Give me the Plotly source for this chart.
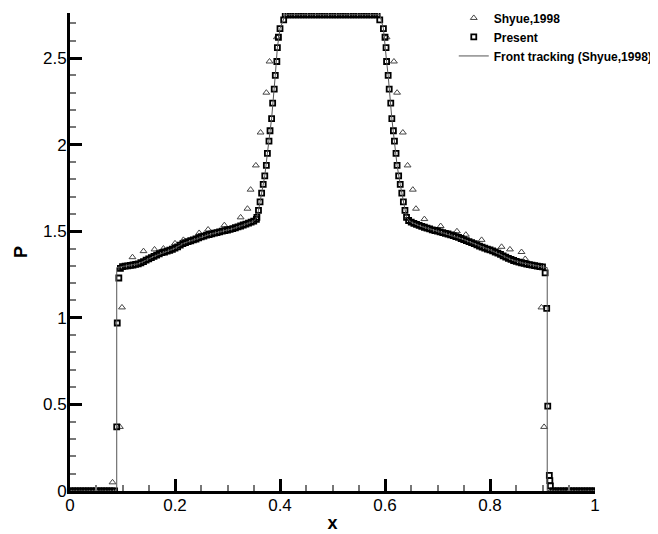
import plotly.graph_objects as go

# Front tracking (Shyue, 1998) reference curve
front_x = [0.0, 0.089, 0.089, 0.10, 0.12, 0.13, 0.15, 0.16, 0.19, 0.20, 0.216, 0.235,
           0.248, 0.27, 0.29, 0.311, 0.33, 0.343, 0.35, 0.356, 0.359, 0.365, 0.371,
           0.376, 0.384, 0.391, 0.395, 0.400, 0.407, 0.41, 0.59, 0.597, 0.603, 0.606,
           0.613, 0.618, 0.623, 0.629, 0.635, 0.641, 0.648, 0.667, 0.70, 0.75, 0.80,
           0.82, 0.84, 0.86, 0.88, 0.90, 0.909, 0.909, 1.0]
front_p = [0.0, 0.0, 1.29, 1.295, 1.305, 1.312, 1.34, 1.355, 1.39, 1.402, 1.43, 1.45,
           1.465, 1.485, 1.50, 1.515, 1.536, 1.55, 1.558, 1.58, 1.62, 1.72, 1.82,
           1.95, 2.15, 2.40, 2.56, 2.67, 2.72, 2.75, 2.75, 2.67, 2.48, 2.40,
           2.15, 2.02, 1.88, 1.77, 1.67, 1.58, 1.555, 1.53, 1.50, 1.452, 1.392,
           1.366, 1.337, 1.318, 1.304, 1.294, 1.29, 0.0, 0.0]

# Present scheme (squares)
present_x = [
    0.000, 0.005, 0.010, 0.015, 0.020, 0.025, 0.030, 0.035, 0.040, 0.045, 0.050, 0.055,
    0.060, 0.065, 0.070, 0.075, 0.080, 0.085, 0.089, 0.090, 0.093, 0.096,
    0.100, 0.105, 0.110, 0.115, 0.120, 0.125, 0.130, 0.135, 0.140, 0.145, 0.150, 0.155,
    0.160, 0.165, 0.170, 0.175, 0.180, 0.185, 0.190, 0.195, 0.200, 0.205, 0.210, 0.215,
    0.220, 0.225, 0.230, 0.235, 0.240, 0.245, 0.250, 0.255, 0.260, 0.265, 0.270, 0.275,
    0.280, 0.285, 0.290, 0.295, 0.300, 0.305, 0.310, 0.315, 0.320, 0.325, 0.330, 0.335,
    0.340, 0.345, 0.350, 0.355,
    0.356, 0.359, 0.362, 0.365, 0.368, 0.371, 0.374, 0.376, 0.379, 0.381, 0.384, 0.386,
    0.389, 0.391, 0.394, 0.395, 0.397, 0.400, 0.407,
    0.410, 0.415, 0.420, 0.425, 0.430, 0.435, 0.440, 0.445, 0.450, 0.455, 0.460, 0.465,
    0.470, 0.475, 0.480, 0.485, 0.490, 0.495, 0.500, 0.505, 0.510, 0.515, 0.520, 0.525,
    0.530, 0.535, 0.540, 0.545, 0.550, 0.555, 0.560, 0.565, 0.570, 0.575, 0.580, 0.585,
    0.590, 0.597, 0.600, 0.602, 0.603, 0.606, 0.608, 0.611, 0.613, 0.616, 0.618, 0.621,
    0.623, 0.626, 0.629, 0.632, 0.635, 0.638, 0.641,
    0.645, 0.650, 0.655, 0.660, 0.665, 0.670, 0.675, 0.680, 0.685, 0.690, 0.695, 0.700,
    0.705, 0.710, 0.715, 0.720, 0.725, 0.730, 0.735, 0.740, 0.745, 0.750, 0.755, 0.760,
    0.765, 0.770, 0.775, 0.780, 0.785, 0.790, 0.795, 0.800, 0.805, 0.810, 0.815, 0.820,
    0.825, 0.830, 0.835, 0.840, 0.845, 0.850, 0.855, 0.860, 0.865, 0.870, 0.875, 0.880,
    0.885, 0.890, 0.895, 0.900, 0.905, 0.908, 0.910, 0.913, 0.914, 0.915,
    0.920, 0.925, 0.930, 0.935, 0.940, 0.945, 0.950, 0.955, 0.960, 0.965, 0.970, 0.975,
    0.980, 0.985, 0.990, 0.995, 1.000,
]
present_p = [
    0.0, 0.0, 0.0, 0.0, 0.0, 0.0, 0.0, 0.0, 0.0, 0.0, 0.0, 0.0,
    0.0, 0.0, 0.0, 0.0, 0.0, 0.0, 0.37, 0.97, 1.23, 1.285,
    1.295, 1.298, 1.300, 1.303, 1.305, 1.308, 1.312, 1.318, 1.325, 1.333, 1.340, 1.348,
    1.355, 1.362, 1.370, 1.376, 1.380, 1.385, 1.390, 1.396, 1.402, 1.410, 1.420, 1.428,
    1.434, 1.440, 1.445, 1.450, 1.455, 1.462, 1.468, 1.472, 1.477, 1.481, 1.485, 1.489,
    1.492, 1.496, 1.500, 1.503, 1.507, 1.511, 1.515, 1.520, 1.525, 1.530, 1.536, 1.541,
    1.547, 1.552, 1.558, 1.568,
    1.58, 1.62, 1.67, 1.72, 1.77, 1.82, 1.88, 1.95, 2.02, 2.08, 2.15, 2.24,
    2.32, 2.40, 2.48, 2.56, 2.62, 2.67, 2.72,
    2.75, 2.75, 2.75, 2.75, 2.75, 2.75, 2.75, 2.75, 2.75, 2.75, 2.75, 2.75,
    2.75, 2.75, 2.75, 2.75, 2.75, 2.75, 2.75, 2.75, 2.75, 2.75, 2.75, 2.75,
    2.75, 2.75, 2.75, 2.75, 2.75, 2.75, 2.75, 2.75, 2.75, 2.75, 2.75, 2.75,
    2.72, 2.67, 2.62, 2.56, 2.48, 2.40, 2.32, 2.24, 2.15, 2.08, 2.02, 1.95,
    1.88, 1.82, 1.77, 1.72, 1.67, 1.62, 1.58,
    1.562, 1.552, 1.545, 1.540, 1.534, 1.528, 1.523, 1.518, 1.513, 1.508, 1.504, 1.500,
    1.496, 1.492, 1.488, 1.484, 1.479, 1.474, 1.469, 1.464, 1.458, 1.452, 1.446, 1.440,
    1.434, 1.428, 1.421, 1.414, 1.408, 1.402, 1.397, 1.392, 1.386, 1.380, 1.373, 1.366,
    1.358, 1.350, 1.343, 1.337, 1.331, 1.326, 1.322, 1.318, 1.314, 1.310, 1.307, 1.304,
    1.301, 1.298, 1.296, 1.294, 1.26, 1.055, 0.49, 0.09, 0.06, 0.03,
    0.0, 0.0, 0.0, 0.0, 0.0, 0.0, 0.0, 0.0, 0.0, 0.0, 0.0, 0.0,
    0.0, 0.0, 0.0, 0.0, 0.0,
]

# Shyue, 1998 (triangles)
shyue_x = [0.005, 0.015, 0.025, 0.035, 0.045, 0.055, 0.065, 0.075, 0.081, 0.095, 0.099,
           0.119, 0.140, 0.161, 0.178, 0.200, 0.216, 0.246, 0.263, 0.294, 0.325, 0.338,
           0.344, 0.354, 0.363, 0.374, 0.380, 0.394,
           0.42, 0.44, 0.46, 0.48, 0.50, 0.52, 0.54, 0.56, 0.58,
           0.603, 0.617, 0.623, 0.634, 0.643, 0.653, 0.659,
           0.675, 0.706, 0.737, 0.754, 0.784, 0.822, 0.838, 0.860, 0.867,
           0.898, 0.903, 0.915, 0.925, 0.935, 0.945, 0.955, 0.965, 0.975, 0.985, 0.995]
shyue_p = [0.0, 0.0, 0.0, 0.0, 0.0, 0.0, 0.0, 0.0, 0.05, 0.37, 1.06,
           1.35, 1.385, 1.395, 1.40, 1.43, 1.45, 1.49, 1.51, 1.535, 1.58, 1.63,
           1.74, 1.88, 2.07, 2.30, 2.48, 2.62,
           2.75, 2.75, 2.75, 2.75, 2.75, 2.75, 2.75, 2.75, 2.75,
           2.62, 2.48, 2.30, 2.07, 1.88, 1.74, 1.63,
           1.57, 1.53, 1.50, 1.48, 1.45, 1.41, 1.395, 1.38, 1.34,
           1.06, 0.37, 0.0, 0.0, 0.0, 0.0, 0.0, 0.0, 0.0, 0.0, 0.0]

x_ticks = [0, 0.2, 0.4, 0.6, 0.8, 1]
x_labels = ["0", "0.2", "0.4", "0.6", "0.8", "1"]
p_ticks = [0, 0.5, 1, 1.5, 2, 2.5]
p_labels = ["0", "0.5", "1", "1.5", "2", "2.5"]

font_family = "Liberation Sans, Arial, sans-serif"

fig = go.Figure()

fig.add_trace(go.Scatter(
    x=shyue_x, y=shyue_p, mode="markers", name="Shyue,1998",
    marker=dict(symbol="triangle-up-open", size=6, color="#444",
                line=dict(width=1, color="#444")),
))
fig.add_trace(go.Scatter(
    x=present_x, y=present_p, mode="markers", name="Present",
    marker=dict(symbol="square-open", size=5, color="black",
                line=dict(width=1.8, color="black")),
))
fig.add_trace(go.Scatter(
    x=front_x, y=front_p, mode="lines", name="Front tracking (Shyue,1998)",
    line=dict(color="#555", width=1),
))

axis_common = dict(
    showline=True, linewidth=3, linecolor="black",
    ticks="inside", ticklen=12, tickwidth=2.5, tickcolor="black",
    showgrid=False, zeroline=False, mirror=False, automargin=False,
    ticklabelstandoff=-3,
    tickfont=dict(family=font_family, size=17, color="black"),
)

# the page body adds an 8 px offset, so the figure is 8 px smaller each way
fig.update_layout(
    width=650, height=526,
    paper_bgcolor="white", plot_bgcolor="white",
    margin=dict(l=62, r=63, t=5, b=43, autoexpand=False),
    showlegend=True,
    legend=dict(
        x=0.731, y=1.02, xanchor="left", yanchor="top",
        bgcolor="rgba(0,0,0,0)", borderwidth=0,
        font=dict(family=font_family, size=12, color="black", weight="bold"),
        tracegroupgap=0,
    ),
    xaxis=dict(
        **axis_common, range=[0, 1],
        tickvals=x_ticks, ticktext=x_labels,
        minor=dict(ticks="inside", ticklen=6, tickwidth=1.5, tickcolor="#777", dtick=0.05),
        title=dict(text="<b>x</b>", font=dict(family=font_family, size=18, color="black"),
                   standoff=2),
    ),
    yaxis=dict(
        **axis_common, range=[0, 2.76],
        tickvals=p_ticks, ticktext=p_labels,
        minor=dict(ticks="inside", ticklen=6, tickwidth=1.5, tickcolor="#777", dtick=0.1),
        title=dict(text="<b>P</b>", font=dict(family=font_family, size=18, color="black"),
                   standoff=11),
    ),
)

fig.write_html("out.html")
